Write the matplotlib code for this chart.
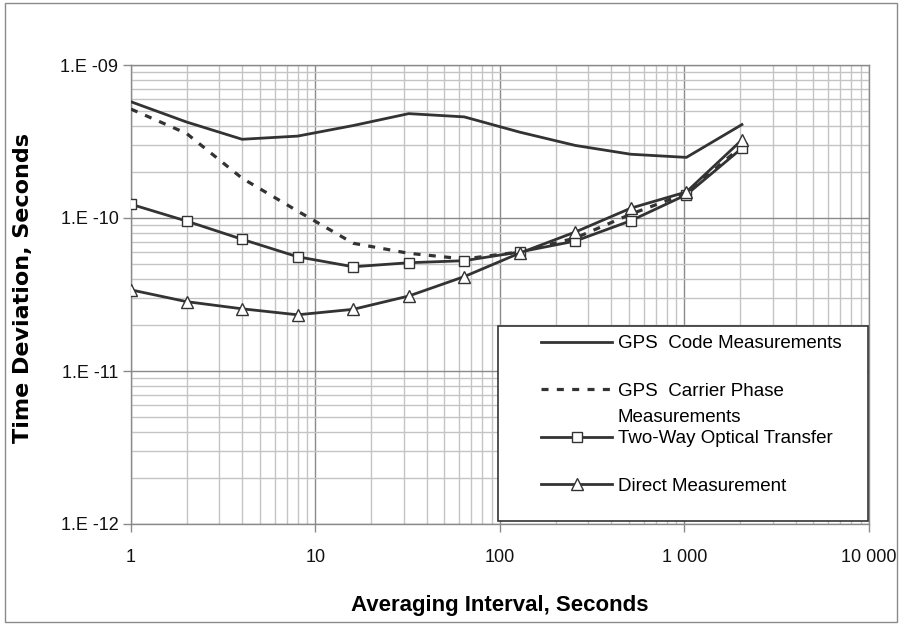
import matplotlib
matplotlib.use("Agg")
import matplotlib.pyplot as plt
from matplotlib import font_manager
from matplotlib.patches import Rectangle
from matplotlib.ticker import FixedLocator, FixedFormatter, LogLocator, NullFormatter

# averaging intervals (s)
tau = [1, 2, 4, 8, 16, 32, 64, 128, 256, 512, 1024, 2048]

# time deviation (s)
gps_code = [5.75e-10, 4.24e-10, 3.27e-10, 3.43e-10, 4.02e-10, 4.81e-10,
            4.58e-10, 3.64e-10, 2.98e-10, 2.61e-10, 2.49e-10, 4.08e-10]
gps_carrier = [5.15e-10, 3.57e-10, 1.82e-10, 1.11e-10, 6.84e-11, 5.88e-11,
               5.4e-11, 6.0e-11, 7.4e-11, 1.06e-10, 1.45e-10, 2.95e-10]
two_way = [1.23e-10, 9.55e-11, 7.26e-11, 5.58e-11, 4.8e-11, 5.1e-11,
           5.26e-11, 6.0e-11, 7.07e-11, 9.6e-11, 1.42e-10, 2.86e-10]
direct = [3.39e-11, 2.84e-11, 2.55e-11, 2.33e-11, 2.53e-11, 3.09e-11,
          4.14e-11, 5.9e-11, 8.1e-11, 1.16e-10, 1.48e-10, 3.24e-10]

labels = ["GPS  Code Measurements", "GPS  Carrier Phase",
          "Two-Way Optical Transfer", "Direct Measurement"]

x_ticks = [1, 10, 100, 1000, 10000]
x_tick_labels = ["1", "10", "100", "1 000", "10 000"]
y_ticks = [1e-12, 1e-11, 1e-10, 1e-9]
y_tick_labels = ["1.E -12", "1.E -11", "1.E -10", "1.E -09"]


def pick_font(names):
    have = {f.name for f in font_manager.fontManager.ttflist}
    for n in names:
        if n in have:
            return n
    return "DejaVu Sans"


narrow = pick_font(["Liberation Sans Narrow", "Liberation Sans"])
plt.rcParams["font.family"] = [narrow, "DejaVu Sans"]

LINE = "#333333"

fig = plt.figure(figsize=(9.03, 6.28), dpi=100)
ax = fig.add_axes([131 / 903, 1 - 524 / 628, 738 / 903, 459 / 628])

ax.plot(tau, gps_code, color=LINE, lw=2.0, zorder=3)
ax.plot(tau, gps_carrier, color=LINE, lw=2.3, ls=(0, (2.2, 2.6)), zorder=3)
ax.plot(tau, two_way, color=LINE, lw=2.0, marker="s", ms=7, mfc="white",
        mec=LINE, mew=1.0, zorder=4)
ax.plot(tau, direct, color=LINE, lw=2.0, marker="^", ms=8, mfc="white",
        mec=LINE, mew=1.0, zorder=4)

ax.set_xscale("log")
ax.set_yscale("log")
ax.set_xlim(1, 10000)
ax.set_ylim(1e-12, 1e-9)

ax.xaxis.set_major_locator(FixedLocator(x_ticks))
ax.xaxis.set_major_formatter(FixedFormatter(x_tick_labels))
ax.yaxis.set_major_locator(FixedLocator(y_ticks))
ax.yaxis.set_major_formatter(FixedFormatter(y_tick_labels))
ax.xaxis.set_minor_locator(LogLocator(base=10, subs=range(2, 10), numticks=20))
ax.yaxis.set_minor_locator(LogLocator(base=10, subs=range(2, 10), numticks=20))
ax.xaxis.set_minor_formatter(NullFormatter())
ax.yaxis.set_minor_formatter(NullFormatter())

ax.grid(which="major", color="#8a8a8a", lw=1.0)
ax.grid(which="minor", color="#c4c4c4", lw=1.0)
ax.set_axisbelow(True)
ax.tick_params(which="major", length=6, width=1.0, color="#8a8a8a",
               labelsize=13, pad=4, labelcolor="#111111")
ax.tick_params(axis="x", which="major", pad=12)
ax.tick_params(axis="y", which="major", pad=3)
ax.tick_params(which="minor", length=0)
for s in ax.spines.values():
    s.set_color("#8a8a8a")
    s.set_linewidth(1.0)

ax.set_xlabel("Averaging Interval, Seconds", fontsize=16, fontweight="bold",
              family=["Liberation Sans", "DejaVu Sans"])
ax.set_ylabel("Time Deviation, Seconds", fontsize=16, fontweight="bold",
              family="DejaVu Sans")
ax.yaxis.set_label_coords(-0.133, 0.515)
ax.xaxis.set_label_coords(0.5, -0.155)

# legend frame (Excel style box in the lower right)
ax.add_patch(Rectangle(((498 - 131) / 738, (524 - 521) / 459),
                       370 / 738, 195 / 459, transform=ax.transAxes,
                       facecolor="white", edgecolor="#333333", lw=1.2,
                       zorder=6))
leg = ax.legend(ax.get_lines(), labels, loc="upper left",
                bbox_to_anchor=((541 - 131) / 738, (524 - 335) / 459),
                frameon=False, borderpad=0, borderaxespad=0,
                handlelength=3.8, handletextpad=0.3, labelspacing=1.62,
                fontsize=13.5)
leg.set_zorder(7)
ax.annotate("Measurements", xy=(0, 0.5), xycoords=leg.get_texts()[1],
            xytext=(0, -19), textcoords="offset points", va="center",
            ha="left", fontsize=13.5, zorder=8, annotation_clip=False)

# outer chart border
fig.add_artist(Rectangle((5 / 903, 6 / 628), 892 / 903, 619 / 628,
                         transform=fig.transFigure, fill=False,
                         edgecolor="#8a8a8a", lw=1.0))

fig.savefig("out.png", dpi=100)
